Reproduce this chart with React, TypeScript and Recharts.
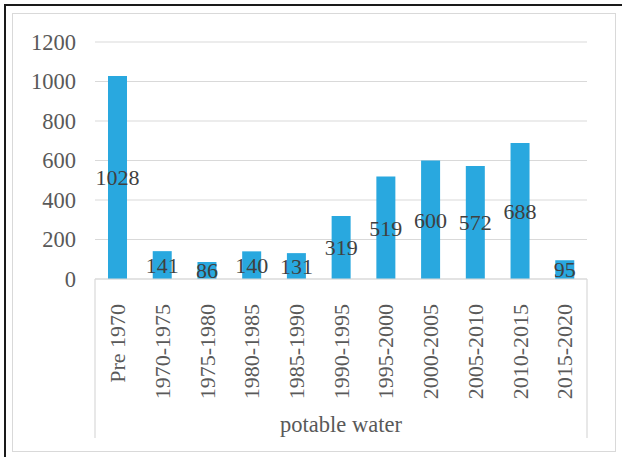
import React from 'react';
import { BarChart, Bar, XAxis, YAxis, CartesianGrid, LabelList, usePlotArea } from 'recharts';

const categories = ['Pre 1970', '1970-1975', '1975-1980', '1980-1985', '1985-1990', '1990-1995', '1995-2000', '2000-2005', '2005-2010', '2010-2015', '2015-2020'];
const values = [1028, 141, 86, 140, 131, 319, 519, 600, 572, 688, 95];
const yTicks = [0, 200, 400, 600, 800, 1000, 1200];
const groupLabel = 'potable water';

const data = categories.map((c, i) => ({ name: c, value: values[i] }));

const FONT = 'Liberation Serif, Times New Roman, DejaVu Serif, serif';
const W = 622;
const H = 457;

const XTick = (props: any) => {
  const { x, y, payload } = props;
  return (
    <g transform={`translate(${x},${y + 17}) rotate(-90)`}>
      <text x={0} y={0} dy="0.35em" textAnchor="end" fill="#595959" fontSize={22} style={{ fontFamily: FONT }}>
        {payload.value}
      </text>
    </g>
  );
};

const GroupBox = () => {
  const area = usePlotArea();
  if (!area) return null;
  const { x, y, width, height } = area;
  const bottom = y + height;
  return (
    <g>
      <line x1={x} y1={bottom} x2={x} y2={bottom + 159} stroke="#D9D9D9" strokeWidth={1.2} />
      <line x1={x + width} y1={bottom} x2={x + width} y2={bottom + 159} stroke="#D9D9D9" strokeWidth={1.2} />
      <text x={x + width / 2} y={bottom + 145} dy="0.35em" textAnchor="middle" fill="#595959" fontSize={22.5} style={{ fontFamily: FONT }}>
        {groupLabel}
      </text>
    </g>
  );
};

export default function App() {
  return (
    <div style={{ position: 'absolute', left: 0, top: 0, width: W, height: H, background: '#fff', overflow: 'hidden', fontFamily: FONT }}>
      <div style={{ position: 'absolute', left: 4, top: 4, width: W, height: H, borderLeft: '2px solid #1a1a1a', borderTop: '2px solid #1a1a1a' }} />
      <div style={{ position: 'absolute', left: 12, top: 13, width: 604, height: 439, boxSizing: 'border-box', border: '1.5px solid #D9D9D9' }} />
      <div style={{ position: 'absolute', left: 0, top: 0 }}>
        <BarChart width={W} height={H} data={data} margin={{ top: 42, right: 35, bottom: 19, left: 0 }} barSize={19} style={{ fontFamily: FONT }}>
          <CartesianGrid vertical={false} stroke="#D9D9D9" strokeWidth={1.2} />
          <XAxis
            dataKey="name"
            interval={0}
            height={159}
            tickLine={false}
            axisLine={{ stroke: '#D9D9D9', strokeWidth: 1.2 }}
            tick={<XTick />}
          />
          <YAxis
            domain={[0, 1200]}
            ticks={yTicks}
            width={95}
            tickLine={false}
            axisLine={false}
            tickSize={0}
            tickMargin={19}
            tick={{ fill: '#595959', fontSize: 22.5, style: { fontFamily: FONT } }}
          />
          <Bar dataKey="value" fill="#29A8DF" isAnimationActive={false}>
            <LabelList dataKey="value" position="center" fill="#404040" fontSize={22} style={{ fontFamily: FONT }} />
          </Bar>
          <GroupBox />
        </BarChart>
      </div>
    </div>
  );
}
